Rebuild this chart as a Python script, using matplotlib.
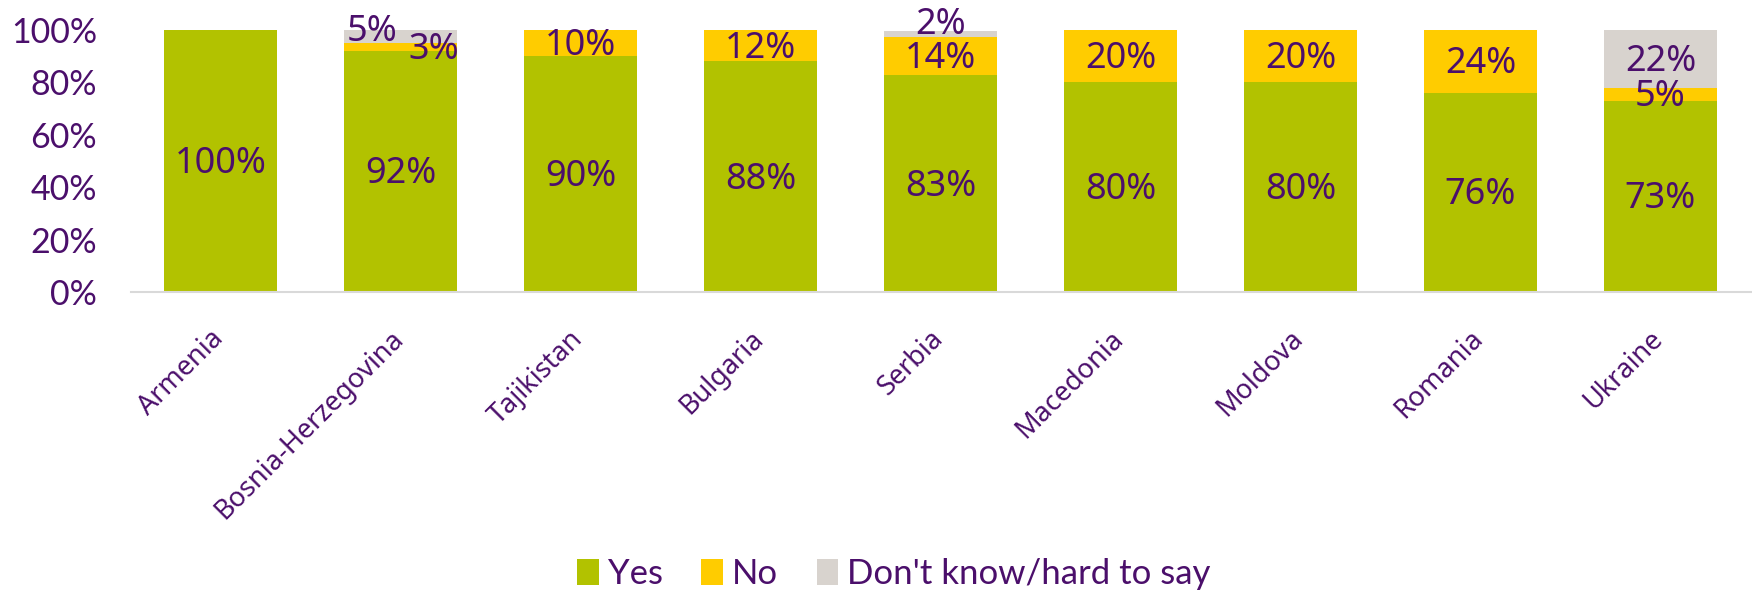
import matplotlib.pyplot as plt
import numpy as np

countries = ["Armenia", "Bosnia-Herzegovina", "Tajikistan", "Bulgaria", "Serbia",
             "Macedonia", "Moldova", "Romania", "Ukraine"]
yes = [100, 92, 90, 88, 82.8, 80, 80, 76, 73]
no = [0, 3, 10, 12, 14.4, 20, 20, 24, 5]
dont_know = [0, 5, 0, 0, 2.4, 0, 0, 0, 22]
series_names = ["Yes", "No", "Don't know/hard to say"]

green = "#B2C200"
yellow = "#FFCC00"
grey = "#D8D3CE"
purple = "#4B0F6B"

fig = plt.figure(figsize=(17.52, 5.90), dpi=100)
ax = fig.add_axes([130.5 / 1752, 1 - 292 / 590, 1620 / 1752, 262 / 590])

x = np.arange(len(countries))
w = 0.627
yes_f = np.array(yes) / 100
no_f = np.array(no) / 100
dk_f = np.array(dont_know) / 100

ax.bar(x, yes_f, w, color=green, label=series_names[0])
ax.bar(x, no_f, w, bottom=yes_f, color=yellow, label=series_names[1])
ax.bar(x, dk_f, w, bottom=yes_f + no_f, color=grey, label=series_names[2])

lab_font = dict(family="Noto Sans", fontsize=26, color=purple, ha="center", va="center")
# manual nudges (in pixels) for the crowded labels
nudge = {(1, 1): (33, 0), (1, 2): (-28, 8), (4, 2): (0, 12)}
for i in range(len(countries)):
    segs = [(yes_f[i], 0, yes[i]), (no_f[i], yes_f[i], no[i]), (dk_f[i], yes_f[i] + no_f[i], dont_know[i])]
    for j, (h, b, v) in enumerate(segs):
        if v <= 0:
            continue
        dx, dy = nudge.get((i, j), (0, 0))
        ax.annotate(f"{round(v)}%", (x[i], b + h / 2), xytext=(dx * 0.72, (dy - 3) * 0.72),
                    textcoords="offset points", annotation_clip=False, **lab_font)

ax.set_xlim(-0.5, len(countries) - 0.5)
ax.set_ylim(0, 1)
ax.set_yticks(np.arange(0, 1.01, 0.2))
ax.set_yticklabels([f"{int(t * 100)}%" for t in np.arange(0, 1.01, 0.2)],
                   fontfamily="Lato", fontsize=24.5, color=purple)
# labels sit a little left of the bar centre, like the original
ax.set_xticks(x - 0.061)
ax.set_xticklabels(countries, rotation=45, ha="right", rotation_mode="anchor",
                   fontfamily="Noto Sans", fontsize=19.5, color=purple)
ax.tick_params(axis="y", length=0, pad=24)
ax.tick_params(axis="x", length=0, pad=23.5)
for s in ["top", "right", "left"]:
    ax.spines[s].set_visible(False)
ax.spines["bottom"].set_color("#D9D9D9")
ax.spines["bottom"].set_linewidth(1.5)

fig.legend(loc="center", bbox_to_anchor=(894 / 1752, 1 - 574 / 590), ncol=3, frameon=False,
           prop={"family": "Lato", "size": 25}, labelcolor=purple,
           handlelength=0.63, handleheight=0.78, handletextpad=0.26, columnspacing=1.1)

fig.savefig("out.png", dpi=100)
